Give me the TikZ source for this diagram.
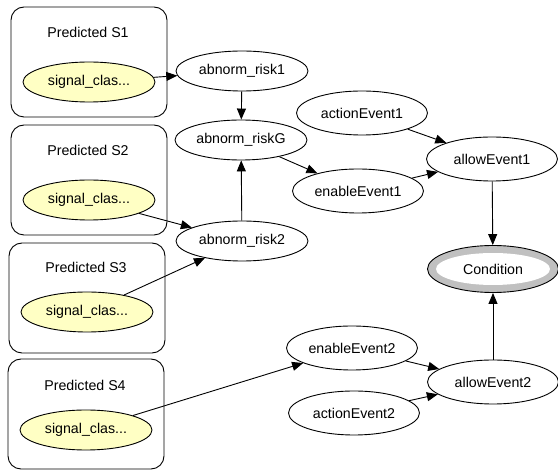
\documentclass[tikz,border=0pt]{standalone}
\usepackage{fontspec}
\setmainfont{Liberation Sans}
\usetikzlibrary{shapes.geometric,arrows.meta}
\definecolor{sigyellow}{HTML}{FFFFC4}
\definecolor{condgray}{HTML}{C0C0C0}
\begin{document}
\begin{tikzpicture}[x=1pt,y=-1pt,
  every node/.style={font=\fontsize{14.2}{17}\selectfont},
  grp/.style={draw, rounded corners=13pt, line width=0.9pt, minimum width=156pt, minimum height=110pt, inner sep=0pt},
  ttl/.style={inner sep=0pt},
  var/.style={draw, ellipse, inner sep=0pt, line width=0.9pt, minimum width=132pt, minimum height=40pt},
  sig/.style={var, fill=sigyellow},
  evt/.style={var, minimum width=131pt, minimum height=44pt},
  edge/.style={line width=0.9pt, -{Triangle[length=11pt,width=9pt]}}
]
\useasboundingbox (0,0) rectangle (558,470);
% groups
\node[grp] (g1) at (89,62) {};
\node[grp] (g2) at (89,180) {};
\node[grp] (g3) at (87,298) {};
\node[grp] (g4) at (86,414) {};
\node[ttl] (t1) at (88,32) {Predicted S1};
\node[ttl] (t2) at (88,150) {Predicted S2};
\node[ttl] (t3) at (86,267) {Predicted S3};
\node[ttl] (t4) at (85,385) {Predicted S4};
\node[sig] (s1) at (89,82) {signal\_clas...};
\node[sig] (s2) at (89,200) {signal\_clas...};
\node[sig] (s3) at (87,312) {signal\_clas...};
\node[sig] (s4) at (86,430) {signal\_clas...};
% middle
\node[var] (r1) at (242,71) {abnorm\_risk1};
\node[var] (rG) at (241,140) {abnorm\_riskG};
\node[var] (r2) at (242,241) {abnorm\_risk2};
% right
\node[evt] (a1) at (362,113) {actionEvent1};
\node[evt] (e1) at (358,191) {enableEvent1};
\node[evt] (w1) at (492,159) {allowEvent1};
\node[draw, ellipse, line width=0.9pt, fill=condgray, minimum width=131pt, minimum height=47pt, inner sep=0pt] (c) at (493,269) {};
\node[ellipse, fill=white, minimum width=114pt, minimum height=32pt, inner sep=0pt] (ci) at (c.center) {Condition};
\node[evt] (e2) at (352,348) {enableEvent2};
\node[evt] (a2) at (354,413) {actionEvent2};
\node[evt] (w2) at (493,382) {allowEvent2};
% edges
\draw[edge] (s1) -- (r1);
\draw[edge] (r1) -- (rG);
\draw[edge] (s2) -- (r2);
\draw[edge] (s3) -- (r2);
\draw[edge] (r2) -- (rG);
\draw[edge] (rG) -- (e1);
\draw[edge] (a1) -- (w1);
\draw[edge] (e1) -- (w1);
\draw[edge] (w1) -- (c);
\draw[edge] (w2) -- (c);
\draw[edge] (s4) -- (e2);
\draw[edge] (e2) -- (w2);
\draw[edge] (a2) -- (w2);
\end{tikzpicture}
\end{document}
